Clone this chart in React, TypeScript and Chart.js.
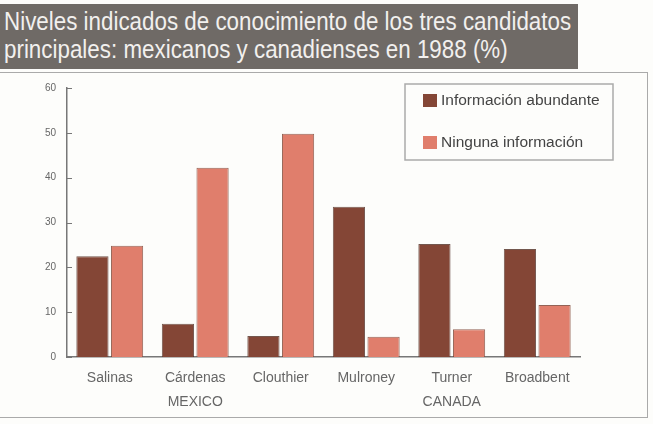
import React, { useEffect, useRef } from "react";
import { Chart, registerables } from "chart.js";

Chart.register(...registerables);

const candidates = ["Salinas", "Cárdenas", "Clouthier", "Mulroney", "Turner", "Broadbent"];
const abundante = [22.5, 7.4, 4.7, 33.5, 25.2, 24.1];
const ninguna = [24.8, 42.2, 49.8, 4.5, 6.2, 11.6];
const seriesNames = ["Información abundante", "Ninguna información"];
const yTicks = [0, 10, 20, 30, 40, 50, 60];
const groups = [
  { label: "MEXICO", at: 1 },
  { label: "CANADA", at: 4 },
];
const titleLines = [
  "Niveles indicados de conocimiento de los tres candidatos",
  "principales: mexicanos y canadienses en 1988 (%)",
];

const DARK = "#844636";
const LIGHT = "#e07e6c";
const FONT = "'Liberation Sans', Arial, sans-serif";

const decorPlugin = {
  id: "decor",
  afterDraw(chart: any) {
    const ctx = chart.ctx;
    const x = chart.scales.x;
    const y = chart.scales.y;
    ctx.save();
    // inward y tick marks
    ctx.strokeStyle = "#777";
    ctx.lineWidth = 1;
    yTicks.forEach((v) => {
      const py = Math.round(y.getPixelForValue(v)) + 0.5;
      ctx.beginPath();
      ctx.moveTo(x.left, py);
      ctx.lineTo(x.left + 5, py);
      ctx.stroke();
    });
    // group labels
    ctx.fillStyle = "#666";
    ctx.font = "14px " + FONT;
    ctx.textAlign = "center";
    ctx.textBaseline = "middle";
    groups.forEach((g) => {
      ctx.fillText(g.label, x.getPixelForValue(g.at), 402);
    });
    // legend box
    const lx = 405, ly = 84, lw = 208, lh = 76;
    ctx.strokeStyle = "#aaa";
    ctx.lineWidth = 1.5;
    ctx.strokeRect(lx, ly, lw, lh);
    ctx.textAlign = "left";
    ctx.font = "15.5px " + FONT;
    chart.data.datasets.forEach((ds: any, i: number) => {
      const cy = ly + 17 + i * 42;
      ctx.fillStyle = ds.backgroundColor;
      ctx.fillRect(lx + 18, cy - 7, 14, 13);
      ctx.fillStyle = "#444";
      ctx.fillText(ds.label, lx + 36, cy);
    });
    ctx.restore();
  },
};

export default function App() {
  const ref = useRef<HTMLCanvasElement | null>(null);
  useEffect(() => {
    if (!ref.current) return;
    const chart = new Chart(ref.current, {
      type: "bar",
      data: {
        labels: candidates,
        datasets: [
          {
            label: seriesNames[0],
            data: abundante,
            backgroundColor: DARK,
            borderColor: "rgba(80,45,35,0.8)",
            borderWidth: 1,
            categoryPercentage: 0.81,
            barPercentage: 0.93,
          },
          {
            label: seriesNames[1],
            data: ninguna,
            backgroundColor: LIGHT,
            borderColor: "rgba(120,60,45,0.8)",
            borderWidth: 1,
            categoryPercentage: 0.81,
            barPercentage: 0.93,
          },
        ],
      },
      options: {
        responsive: false,
        animation: false,
        layout: { padding: { left: 37, right: 73, top: 88, bottom: 35 } },
        plugins: { legend: { display: false }, tooltip: { enabled: false }, title: { display: false } },
        scales: {
          x: {
            grid: { display: false, drawTicks: false },
            border: { display: true, color: "#777", width: 1.5 },
            ticks: { color: "#666", font: { size: 14, family: FONT }, padding: 13 },
            afterFit(scale: any) {
              scale.height = 32;
            },
          },
          y: {
            min: 0,
            max: 60,
            grid: { display: false, drawTicks: false },
            border: { display: true, color: "#777", width: 1.5 },
            afterBuildTicks(scale: any) {
              scale.ticks = yTicks.map((v) => ({ value: v }));
            },
            ticks: { color: "#666", font: { size: 10, family: FONT }, padding: 11 },
            afterFit(scale: any) {
              scale.width = 30;
            },
          },
        },
      },
      plugins: [decorPlugin],
    });
    return () => chart.destroy();
  }, []);

  return (
    <div style={{ position: "fixed", left: 0, top: 0, width: 653, height: 424, background: "#fdfdfb", overflow: "hidden" }}>
      <div
        style={{
          position: "absolute",
          left: 0,
          top: 4,
          width: 578,
          height: 65,
          background: "#6f6a66",
        }}
      >
        {titleLines.map((t, i) => (
          <div
            key={i}
            style={{
              position: "absolute",
              left: 4,
              top: 3 + i * 28,
              whiteSpace: "nowrap",
              color: "#f2f0ee",
              fontFamily: FONT,
              fontSize: 25,
              lineHeight: "28px",
              transform: "scaleX(0.895)",
              transformOrigin: "left center",
            }}
          >
            {t}
          </div>
        ))}
      </div>
      <div
        style={{
          position: "absolute",
          left: -4,
          top: 72,
          width: 652,
          height: 346,
          border: "1.5px solid #aaa",
          boxSizing: "border-box",
        }}
      />
      <canvas ref={ref} width={653} height={424} style={{ position: "absolute", left: 0, top: 0 }} />
    </div>
  );
}
